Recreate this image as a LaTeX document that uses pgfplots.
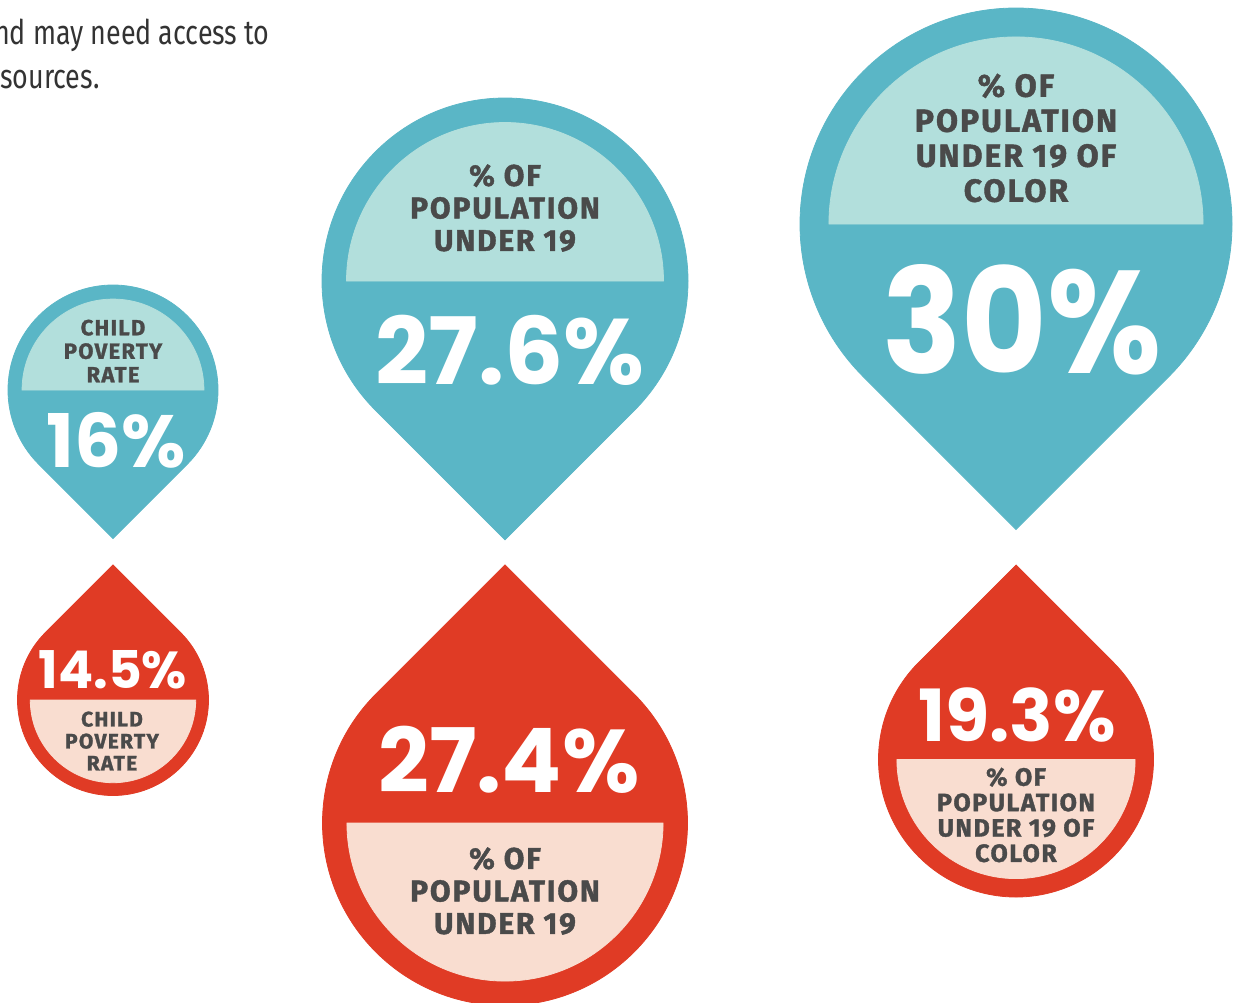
\documentclass[border=0pt]{standalone}
\usepackage{pgfplots}
\usepackage{pgfplotstable}
\usepackage{graphicx}
\pgfplotsset{compat=1.18}
\usepackage{fontspec}
\setmainfont{Fira Sans}
\newfontfamily\bodyfont{Fira Sans}[FakeStretch=0.79]
\newfontfamily\valfont{Poppins}
\newfontfamily\labfont{Fira Sans}[LetterSpace=6, BoldFeatures={FakeBold=1.3}]
\definecolor{dblue}{HTML}{5AB6C6}
\definecolor{lblue}{HTML}{B2DFDC}
\definecolor{dred}{HTML}{E03B25}
\definecolor{lred}{HTML}{F9DDD0}
\definecolor{labc}{HTML}{4A4A4A}
\definecolor{bodyc}{HTML}{333333}
\pgfdeclareplotmark{nomark}{}
\pgfplotstableread{
x y r value
113 390 105 16
505 281 183 27.6
1016 224 216 30
}\bluedata
\pgfplotstableread{
x y r value
113 700 95.5 14.5
505 823 182.5 27.4
1016 759.5 137.5 19.3
}\reddata
\pgfplotsset{
  dropdown/.style 2 args={scatter, only marks, mark=nomark,
    point meta={\thisrow{value}},
    visualization depends on={\thisrow{r} \as \rr},
    scatter/@pre marker code/.code={%
      \pgfmathsetmacro{\R}{0.5*\rr}%
      \pgfmathsetmacro{\Ri}{0.866*\R}%
      \fill[#1] (-45:\R pt) arc[start angle=-45,end angle=225,radius=\R pt] -- (0,-1.41421*\R pt) -- cycle;
      \fill[#2] (\Ri pt,0) arc[start angle=0,end angle=180,radius=\Ri pt] -- cycle;
    },
    scatter/@post marker code/.code={}
  },
  dropup/.style 2 args={scatter, only marks, mark=nomark,
    point meta={\thisrow{value}},
    visualization depends on={\thisrow{r} \as \rr},
    scatter/@pre marker code/.code={%
      \pgfmathsetmacro{\R}{0.5*\rr}%
      \pgfmathsetmacro{\Ri}{0.866*\R}%
      \fill[#1] (45:\R pt) arc[start angle=45,end angle=-225,radius=\R pt] -- (0,1.41421*\R pt) -- cycle;
      \fill[#2] (\Ri pt,0) arc[start angle=0,end angle=-180,radius=\Ri pt] -- cycle;
    },
    scatter/@post marker code/.code={}
  }
}
\newcommand\lab[2]{\labfont\bfseries\fontsize{#1}{#2}\selectfont}
\newcommand\val[1]{\valfont\bfseries\fontsize{#1}{#1}\selectfont}
\begin{document}
\begin{tikzpicture}
\path[use as bounding box] (0,0) rectangle (618pt,501pt);
\clip (0,0) rectangle (618pt,501pt);
\begin{axis}[x=0.5pt, y=0.5pt, y dir=reverse,
  xmin=0, xmax=1236, ymin=0, ymax=1002,
  hide axis, clip marker paths=true]
\addplot[dropdown={dblue}{lblue}] table[x=x,y=y] {\bluedata};
\addplot[dropup={dred}{lred}] table[x=x,y=y] {\reddata};
% labels
\node[text=labc, align=center, font={\lab{11}{11.75}}] at (axis cs:113,351) {CHILD\\POVERTY\\RATE};
\node[text=labc, align=center, font={\lab{15}{16.25}}] at (axis cs:505,208) {\% OF\\POPULATION\\UNDER 19};
\node[text=labc, align=center, font={\lab{16}{17.5}}] at (axis cs:1016,138) {\% OF\\POPULATION\\UNDER 19 OF\\COLOR};
\node[text=labc, align=center, font={\lab{10.5}{11}}] at (axis cs:112,741) {CHILD\\POVERTY\\RATE};
\node[text=labc, align=center, font={\lab{15}{16.25}}] at (axis cs:505,891) {\% OF\\POPULATION\\UNDER 19};
\node[text=labc, align=center, font={\lab{12.5}{12.7}}] at (axis cs:1016,815) {\% OF\\POPULATION\\UNDER 19 OF\\COLOR};
% values
\node[text=white, font={\val{37}}] at (axis cs:116,440) {16\%};
\node[text=white, font={\val{46.5}}] at (axis cs:510,350) {27.6\%};
\node[text=white, font={\val{73}}] at (axis cs:1022,320) {\scalebox{0.9}[1]{30\%}};
\node[text=white, font={\val{26}}] at (axis cs:113,670) {14.5\%};
\node[text=white, font={\val{44.5}}] at (axis cs:509,760) {27.4\%};
\node[text=white, font={\val{36}}] at (axis cs:1017,715) {19.3\%};
% body text
\node[anchor=base east, inner sep=0pt, text=bodyc, font={\bodyfont\fontsize{17}{20}\selectfont}] at (axis cs:270,44) {and may need access to};
\node[anchor=base east, inner sep=0pt, text=bodyc, font={\bodyfont\fontsize{17}{20}\selectfont}] at (axis cs:100,88) {resources.};
\end{axis}
\end{tikzpicture}
\end{document}
